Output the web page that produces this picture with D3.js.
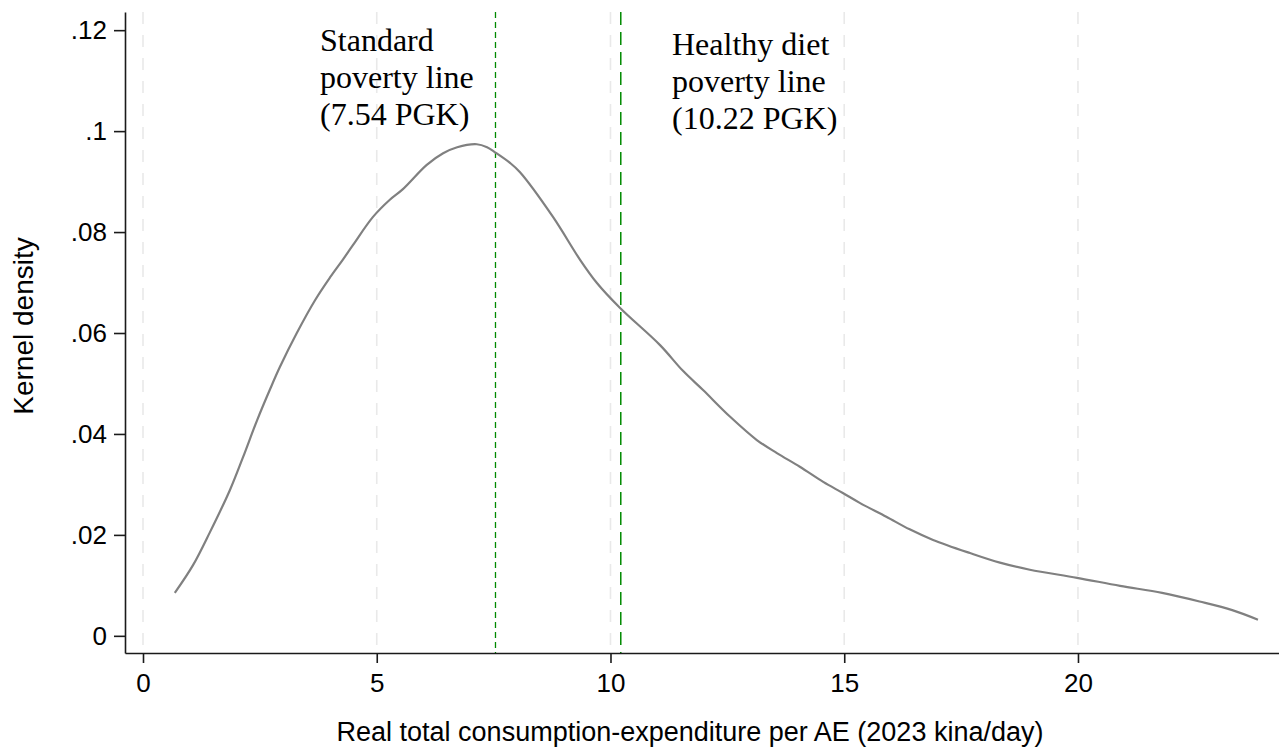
<!DOCTYPE html>
<html>
<head>
<meta charset="utf-8">
<script src="https://cdn.jsdelivr.net/npm/d3@7"></script>
<style>
  body { margin: 0; background: #fff; }
  svg { display: block; }
</style>
</head>
<body>
<svg width="1279" height="748"></svg>
<script>
// kernel density of consumption per AE
var kx = [0.68, 1.07, 1.43, 1.86, 2.14, 2.44, 2.72, 2.93, 3.29, 3.68,
          4.00, 4.28, 4.49, 4.92, 5.28, 5.56, 6.07, 6.42, 6.72, 7.14,
          7.36, 7.53, 7.85, 8.06, 8.77, 9.35, 9.71, 10.20, 11.06, 11.55,
          11.98, 12.56, 13.13, 13.56, 14.05, 14.55, 14.97, 15.34, 15.90, 16.40,
          16.90, 17.69, 18.33, 18.97, 19.98, 20.90, 21.80, 22.60, 23.30, 23.85];
var density = [.0085, .0140, .0205, .0289, .0354, .0427, .0489, .0533, .0600, .0665,
               .0710, .0746, .0774, .0830, .0864, .0885, .0933, .0956, .0968, .0974,
               .0968, .0958, .0937, .0919, .0830, .0745, .0699, .0650, .0576, .0525,
               .0487, .0434, .0388, .0362, .0335, .0305, .0283, .0263, .0236, .0211,
               .0190, .0164, .0145, .0131, .0115, .0099, .0085, .0068, .0051, .0032];

var xTicks = [0, 5, 10, 15, 20];
var yTicks = [0, .02, .04, .06, .08, .1, .12];
var yTickLabels = ["0", ".02", ".04", ".06", ".08", ".1", ".12"];

var povLines = [
  {value: 7.54, lines: ["Standard", "poverty line", "(7.54 PGK)"]},
  {value: 10.22, lines: ["Healthy diet", "poverty line", "(10.22 PGK)"]}
];

var svg = d3.select("svg");

var x = d3.scaleLinear().domain([-0.385, 24.3]).range([125, 1279]);
var y = d3.scaleLinear().domain([-0.0034, 0.1236]).range([653, 12]);

var sans = "'Liberation Sans', Arial, Helvetica, sans-serif";
var serif = "'Liberation Serif', 'Times New Roman', serif";

// vertical grid
svg.append("g").selectAll("line")
    .data(xTicks)
    .enter().append("line")
      .attr("x1", function(d) { return x(d); })
      .attr("x2", function(d) { return x(d); })
      .attr("y1", y.range()[1])
      .attr("y2", y.range()[0])
      .attr("stroke", "#e9e9e9")
      .attr("stroke-width", 1.6)
      .attr("stroke-dasharray", "12,11");

// poverty lines
svg.append("line")
    .attr("x1", x(povLines[0].value)).attr("x2", x(povLines[0].value))
    .attr("y1", 12).attr("y2", 653)
    .attr("stroke", "#008a00").attr("stroke-width", 1.3)
    .attr("stroke-dasharray", "6,4");
svg.append("line")
    .attr("x1", x(povLines[1].value)).attr("x2", x(povLines[1].value))
    .attr("y1", 12).attr("y2", 653)
    .attr("stroke", "#008a00").attr("stroke-width", 1.5)
    .attr("stroke-dasharray", "13,7");

// density curve
var line = d3.line()
    .x(function(d, i) { return x(kx[i]); })
    .y(function(d) { return y(d); })
    .curve(d3.curveCatmullRom);

svg.append("path")
    .datum(density)
    .attr("fill", "none")
    .attr("stroke", "#808080")
    .attr("stroke-width", 2.2)
    .attr("d", line);

// axes
var yAxis = d3.axisLeft(y)
    .tickValues(yTicks)
    .tickFormat(function(d, i) { return yTickLabels[i]; })
    .tickSize(11).tickSizeOuter(0).tickPadding(7);
var gy = svg.append("g").attr("transform", "translate(125,0)").call(yAxis);

var xAxis = d3.axisBottom(x)
    .tickValues(xTicks)
    .tickFormat(d3.format("d"))
    .tickSize(10).tickSizeOuter(0).tickPadding(11);
var gx = svg.append("g").attr("transform", "translate(0,653)").call(xAxis);

[gx, gy].forEach(function(g) {
  g.select(".domain").attr("stroke", "#1a1a1a").attr("stroke-width", 1.6);
  g.selectAll(".tick line").attr("stroke", "#1a1a1a").attr("stroke-width", 1.6);
  g.selectAll("text").attr("font-family", sans).attr("font-size", "26px").attr("fill", "#000");
});

// axis titles
svg.append("text")
    .attr("x", 690).attr("y", 741)
    .attr("text-anchor", "middle")
    .attr("font-family", sans).attr("font-size", "27px")
    .text("Real total consumption-expenditure per AE (2023 kina/day)");

svg.append("text")
    .attr("transform", "translate(33,326) rotate(-90)")
    .attr("text-anchor", "middle")
    .attr("font-family", sans).attr("font-size", "28px")
    .text("Kernel density");

// poverty line labels
var labelPos = [{x: 320, y: 51}, {x: 672, y: 55}];
povLines.forEach(function(p, i) {
  var t = svg.append("text")
      .attr("font-family", serif).attr("font-size", "32px").attr("fill", "#000");
  p.lines.forEach(function(s, j) {
    t.append("tspan")
        .attr("x", labelPos[i].x)
        .attr("y", labelPos[i].y + j * 37)
        .text(s);
  });
});
</script>
</body>
</html>
